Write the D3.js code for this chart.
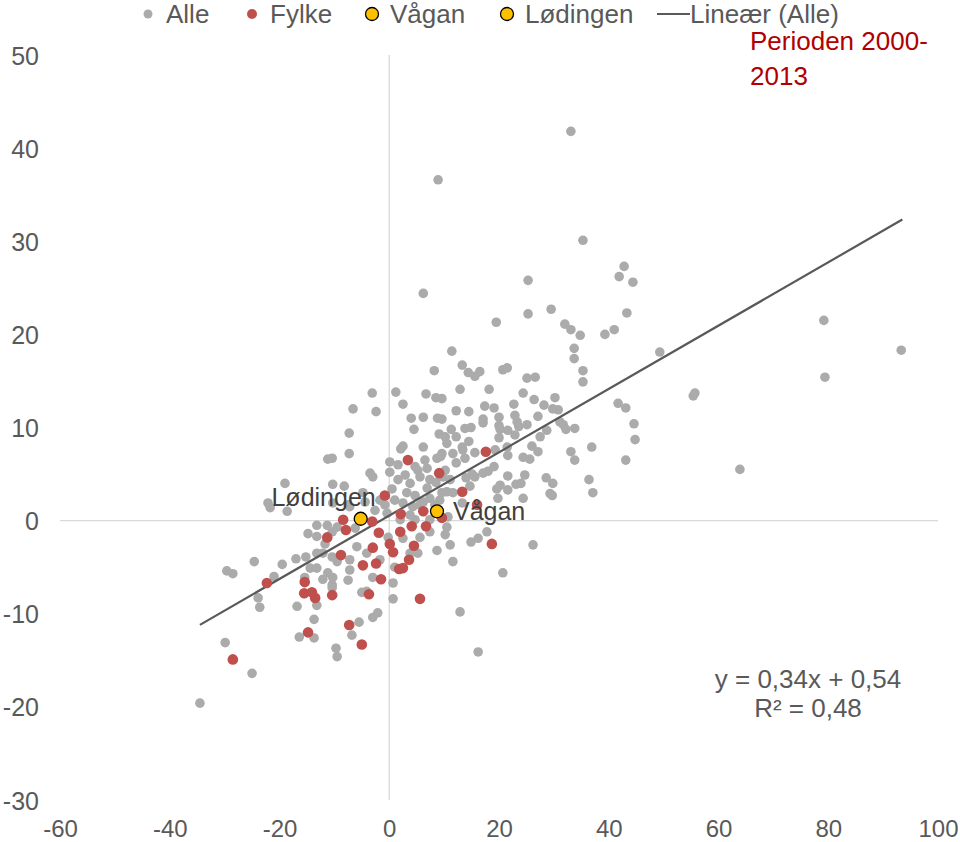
<!DOCTYPE html>
<html><head><meta charset="utf-8">
<script src="https://cdn.jsdelivr.net/npm/d3@7"></script>
<style>body{margin:0;background:#fff}svg{display:block}text{font-family:"Liberation Sans",Arial,sans-serif}</style>
</head><body><svg id="c" width="960" height="842"></svg>
<script>
// ---- data ----
const alleX = [33.1,8.9,35.3,42.8,41.9,44.4,25.3,6.2,25.3,29.5,19.5,43.3,32.0,33.1,34.8,39.3,41.0,79.2,93.3,49.3,79.4,55.4,55.7,63.9,33.7,33.7,35.3,35.3,30.2,29.8,30.8,41.7,43.1,31.1,31.7,32.2,33.8,44.6,44.8,36.9,33.1,33.8,43.1,29.8,36.4,37.1,29.7,
11.4,13.3,14.4,15.6,16.5,20.7,21.5,25.1,26.6,12.9,18.2,24.4,26.4,9.6,17.4,19.1,22.7,28.2,12.2,14.5,22.9,27.1,9.6,17.1,20.0,17.1,20.0,23.3,23.6,25.1,11.3,13.8,14.9,28.7,27.5,20.2,21.6,10.2,12.2,14.5,20.0,22.9,10.5,13.3,13.4,26.0,19.3,21.5,27.1,9.6,11.6,15.6,21.6,24.4,25.6,12.2,13.8,19.1,18.0,17.1,15.1,15.6,14.0,21.6,24.7,24.0,23.1,28.6,20.2,19.6,21.6,14.7,29.3,24.4,19.8,9.6,10.5,11.6,
10.7,11.1,14.9,16.2,17.8,26.2,11.6,20.7,12.9,16.2,10.5,13.3,
8.2,-3.1,1.2,6.7,8.5,-6.6,-2.4,2.5,4.0,6.2,8.8,4.5,-7.3,9.1,2.5,2.1,6.2,-7.3,9.4,-10.4,8.7,0.1,1.6,4.7,5.2,0.1,6.9,-3.5,-3.0,5.6,1.6,3.8,7.4,8.5,9.8,-8.2,-10.3,6.9,0.5,3.2,-4.8,-4.4,2.5,6.2,7.4,-7.5,
-10.3,-7.2,-0.4,4.3,3.8,-9.5,-6.2,-0.2,2.5,5.6,7.4,10.2,-5.9,-4.1,-1.7,-9.5,-7.2,3.8,5.2,8.7,1.0,-7.2,-7.5,-10.3,-10.4,-3.0,-5.0,-4.1,0.7,0.7,-2.1,-3.0,-5.5,-6.8,-9.7,-9.5,
-14.8,-13.2,-10.4,-11.7,-24.6,-19.5,-17.0,-15.2,-13.2,-12.1,-10.4,-29.6,-28.5,-21.0,-14.4,-13.2,-11.2,-15.4,-12.1,-10.4,-13.2,-23.9,-23.6,-16.8,-13.7,-29.9,-16.4,-13.7,-25.0,-34.5,
-11.2,-19.0,-22.1,-18.6,-21.7,-13.2,-11.3,
4.7,5.6,8.3,9.2,1.0,-0.8,2.0,4.7,7.4,-2.6,-1.7,2.9,6.5,10.2,11.1];
const alleY = [41.8,36.6,30.1,27.3,26.2,25.6,25.8,24.4,22.2,22.7,21.3,22.3,21.1,20.5,19.9,20.0,20.5,21.5,18.3,18.1,15.4,13.4,13.7,5.5,18.5,17.4,16.1,14.9,13.2,12.0,11.9,12.6,12.1,10.6,10.3,9.8,9.9,10.4,8.7,7.9,7.4,6.5,6.5,4.0,4.4,3.0,2.7,
18.2,16.7,15.9,15.5,16.0,16.2,16.4,15.3,15.4,14.1,14.1,13.7,13.0,13.1,12.3,12.1,12.5,12.4,11.8,11.7,11.3,11.2,10.9,10.9,11.1,10.5,10.2,10.6,10.1,10.3,9.8,9.9,10.0,9.7,9.0,9.8,9.7,9.0,9.0,8.5,8.9,9.2,8.3,7.9,7.6,8.0,7.6,7.9,7.4,7.2,7.2,7.3,7.0,6.8,6.6,6.2,6.7,5.8,5.3,5.1,5.0,4.7,4.6,4.8,4.9,4.0,3.9,4.6,3.8,3.4,3.3,3.7,2.9,2.4,2.4,3.0,3.1,3.0,
0.4,-2.6,-2.3,-1.9,-1.2,-2.6,-4.4,-5.6,-9.8,-14.1,-0.7,1.9,
16.1,13.7,13.8,13.6,13.2,12.0,11.7,12.5,11.0,11.1,11.0,9.8,9.4,9.3,8.0,7.7,7.9,7.2,6.9,6.7,6.7,6.3,6.0,5.8,5.4,5.2,5.6,5.1,4.7,4.7,4.4,4.0,4.4,4.1,4.7,3.7,3.9,3.5,3.4,3.0,3.0,2.0,1.9,2.0,2.4,1.7,
1.9,1.5,0.8,1.5,0.6,-0.7,-0.8,-1.8,-1.9,-1.8,-1.2,-1.5,-2.8,-3.5,-4.2,-4.4,-4.2,-3.5,-3.5,-3.2,-5.0,-5.3,-6.4,-6.1,-6.9,-6.1,-7.7,-7.6,-6.7,-8.4,-9.9,-10.4,-10.9,-12.3,-13.7,-14.6,
-1.4,-1.7,-1.2,-2.5,-4.4,-4.7,-4.1,-3.9,-3.5,-3.5,-3.9,-5.4,-5.7,-6.0,-5.1,-5.1,-5.6,-6.1,-6.3,-7.2,-9.1,-8.3,-9.3,-9.2,-10.6,-13.1,-12.5,-12.6,-16.4,-19.6,
6.6,4.0,1.9,1.0,1.4,-0.5,-0.5,
2.7,1.7,1.7,2.2,2.2,1.7,0.1,0.1,0.1,1.1,2.2,4.9,6.5,5.4,4.4];
const fylkeX = [-28.5,-22.3,-15.4,-15.5,-14.1,-13.5,-10.4,-11.3,-8.8,-14.8,-8.4,-7.9,-3.1,-1.9,2.1,6.2,9.6,4.1,6.7,2.0,-3.0,0.1,0.7,4.5,-4.8,-2.4,3.6,2.5,1.8,-1.5,-3.7,5.6,-7.3,-5.0,3.4,9.1,-0.8,17.6,13.3,18.7,16.0];
const fylkeY = [-14.9,-6.7,-6.6,-7.8,-7.7,-8.3,-8.0,-1.8,-3.7,-12.0,0.1,-1.0,-0.1,-1.3,0.7,1.0,0.3,-0.6,-0.6,-1.2,-2.9,-2.5,-3.4,-2.7,-4.8,-4.6,-4.2,-5.1,-5.2,-6.3,-7.9,-8.4,-11.2,-13.3,6.5,5.1,2.7,7.4,3.1,-2.5,1.7];
const vaganX = [8.7], vaganY = [1.0];
const lodingenX = [-5.2], lodingenY = [0.2];
const trendSlope = 0.34, trendIntercept = 0.54, trendRange = [-34.5, 93.5];
const xTicks = [-60,-40,-20,0,20,40,60,80,100];
const yTicks = [-30,-20,-10,0,10,20,30,40,50];
const legendLabels = ["Alle","Fylke","Vågan","Lødingen","Lineær (Alle)"];
const eqLines = ["y = 0,34x + 0,54","R² = 0,48"];
const periodLines = ["Perioden 2000-","2013"];

// ---- drawing ----
const svg = d3.select("#c");
const x = d3.scaleLinear().domain([-60,100]).range([60,938]);
const y = d3.scaleLinear().domain([-30,50]).range([800,55]);
const txt = "#595959";
const fmt = d => String(d);

// zero axes
svg.append("line").attr("x1",x(-60)).attr("x2",x(100)).attr("y1",y(0)).attr("y2",y(0)).attr("stroke","#d9d9d9").attr("stroke-width",1.3);
svg.append("line").attr("x1",x(0)).attr("x2",x(0)).attr("y1",y(50)).attr("y2",y(-30)).attr("stroke","#d9d9d9").attr("stroke-width",1.3);

// tick labels via axes
const ya = svg.append("g").attr("transform","translate(39,0)")
  .call(d3.axisLeft(y).tickValues(yTicks).tickSize(0).tickPadding(0).tickFormat(fmt));
ya.select(".domain").remove();
ya.selectAll("text").attr("font-size",25).attr("fill",txt).attr("dy","0.36em").attr("font-family","Liberation Sans, Arial, sans-serif");
const xa = svg.append("g").attr("transform","translate(0,820)")
  .call(d3.axisBottom(x).tickValues(xTicks).tickSize(0).tickPadding(0).tickFormat(fmt));
xa.select(".domain").remove();
xa.selectAll("text").attr("font-size",24).attr("fill",txt).attr("dy","0.36em").attr("y",8).attr("font-family","Liberation Sans, Arial, sans-serif");

// grey points
svg.append("g").selectAll("circle").data(d3.range(alleX.length)).join("circle")
  .attr("cx",i=>x(alleX[i])).attr("cy",i=>y(alleY[i])).attr("r",4.8).attr("fill","#ababab");

// trend line
svg.append("line").attr("x1",x(trendRange[0])).attr("y1",y(trendSlope*trendRange[0]+trendIntercept))
  .attr("x2",x(trendRange[1])).attr("y2",y(trendSlope*trendRange[1]+trendIntercept))
  .attr("stroke","#595959").attr("stroke-width",2.2);

// red
svg.append("g").selectAll("circle").data(d3.range(fylkeX.length)).join("circle")
  .attr("cx",i=>x(fylkeX[i])).attr("cy",i=>y(fylkeY[i])).attr("r",5.3).attr("fill","#c0504d");

// highlighted
function hi(xs,ys){
  svg.append("g").selectAll("circle").data(d3.range(xs.length)).join("circle")
    .attr("cx",i=>x(xs[i])).attr("cy",i=>y(ys[i])).attr("r",6.5).attr("fill","#ffc000").attr("stroke","#000").attr("stroke-width",1.3);
}
hi(vaganX,vaganY); hi(lodingenX,lodingenY);
svg.append("text").attr("x",x(vaganX[0])+16).attr("y",y(vaganY[0])+9).attr("font-size",25).attr("fill","#404040").text("Vågan");
svg.append("text").attr("x",x(lodingenX[0])+15).attr("y",y(lodingenY[0])-13).attr("text-anchor","end").attr("font-size",25).attr("fill","#404040").text("Lødingen");

// legend
const lg = svg.append("g");
const ly = 14;
lg.append("circle").attr("cx",148).attr("cy",ly).attr("r",4.5).attr("fill","#ababab");
lg.append("circle").attr("cx",252).attr("cy",ly).attr("r",5).attr("fill","#c0504d");
lg.append("circle").attr("cx",372).attr("cy",ly).attr("r",6.5).attr("fill","#ffc000").attr("stroke","#000").attr("stroke-width",1.3);
lg.append("circle").attr("cx",507).attr("cy",ly).attr("r",6.5).attr("fill","#ffc000").attr("stroke","#000").attr("stroke-width",1.3);
lg.append("line").attr("x1",657).attr("x2",690).attr("y1",ly).attr("y2",ly).attr("stroke","#595959").attr("stroke-width",2);
const lxs = [166,270,390,525,690];
legendLabels.forEach((t,i)=>lg.append("text").attr("x",lxs[i]).attr("y",ly).attr("dy","0.36em").attr("font-size",26).attr("fill",txt).text(t));

// period text
periodLines.forEach((t,i)=>svg.append("text").attr("x",750).attr("y",50+i*35).attr("font-size",26)
  .attr("font-family","Carlito, 'Open Sans', 'Noto Sans', sans-serif").attr("fill","#b00000").text(t));

// equation
eqLines.forEach((t,i)=>svg.append("text").attr("x",808).attr("y",679+i*29).attr("dy","0.36em").attr("text-anchor","middle")
  .attr("font-size",26).attr("fill",txt).text(t));
</script></body></html>
